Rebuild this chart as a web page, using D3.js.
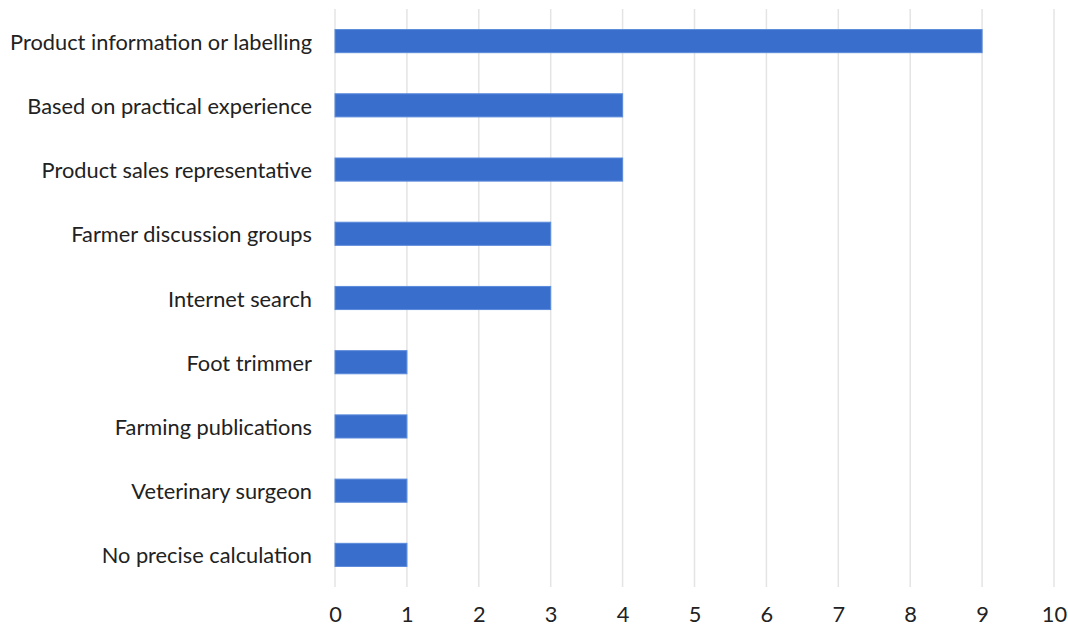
<!DOCTYPE html>
<html>
<head>
<meta charset="utf-8">
<script src="https://cdn.jsdelivr.net/npm/d3@7"></script>
<style>
  html, body { margin: 0; padding: 0; background: #fff; }
  svg { display: block; }
  text { font-family: Lato, "Open Sans", sans-serif; fill: #222; }
</style>
</head>
<body>
<svg id="chart" width="1068" height="627"></svg>
<script>
// Sources of information (count of respondents)
const categories = [
  "Product information or labelling",
  "Based on practical experience",
  "Product sales representative",
  "Farmer discussion groups",
  "Internet search",
  "Foot trimmer",
  "Farming publications",
  "Veterinary surgeon",
  "No precise calculation"
];
const counts = [9, 4, 4, 3, 3, 1, 1, 1, 1];
const tickValues = [0, 1, 2, 3, 4, 5, 6, 7, 8, 9, 10];

const svg = d3.select("#chart");
const plot = { left: 335, right: 1054, top: 9, bottom: 587 };

const x = d3.scaleLinear().domain([0, 10]).range([plot.left, plot.right]);
const y = d3.scaleBand().domain(categories).range([plot.top, plot.bottom]).paddingInner(0.64).paddingOuter(0.32);

// vertical gridlines
svg.append("g")
  .selectAll("line")
  .data(tickValues)
  .join("line")
  .attr("x1", d => x(d)).attr("x2", d => x(d))
  .attr("y1", plot.top).attr("y2", plot.bottom)
  .attr("stroke", "#e4e4e4")
  .attr("stroke-width", 1.5);

// bars
svg.append("g")
  .selectAll("rect")
  .data(categories)
  .join("rect")
  .attr("x", x(0))
  .attr("y", d => y(d))
  .attr("width", (d, i) => x(counts[i]) - x(0))
  .attr("height", y.bandwidth())
  .attr("fill", "#3A6ECC")
  .attr("stroke", "#5B8BDB")
  .attr("stroke-width", 1);

// category labels
svg.append("g")
  .selectAll("text")
  .data(categories)
  .join("text")
  .attr("x", plot.left - 23)
  .attr("y", d => y(d) + y.bandwidth() / 2)
  .attr("text-anchor", "end")
  .attr("dominant-baseline", "central")
  .attr("font-size", 21.8)
  .text(d => d);

// x axis tick labels
const xAxis = d3.axisBottom(x).tickValues(tickValues).tickSize(0).tickPadding(0).tickFormat(d3.format("d"));
const ax = svg.append("g").attr("transform", `translate(0, ${plot.bottom + 20})`).call(xAxis);
ax.select(".domain").remove();
ax.selectAll("text").attr("font-size", 21.8).attr("fill", "#222").style("font-family", "Lato, 'Open Sans', sans-serif");
</script>
</body>
</html>
